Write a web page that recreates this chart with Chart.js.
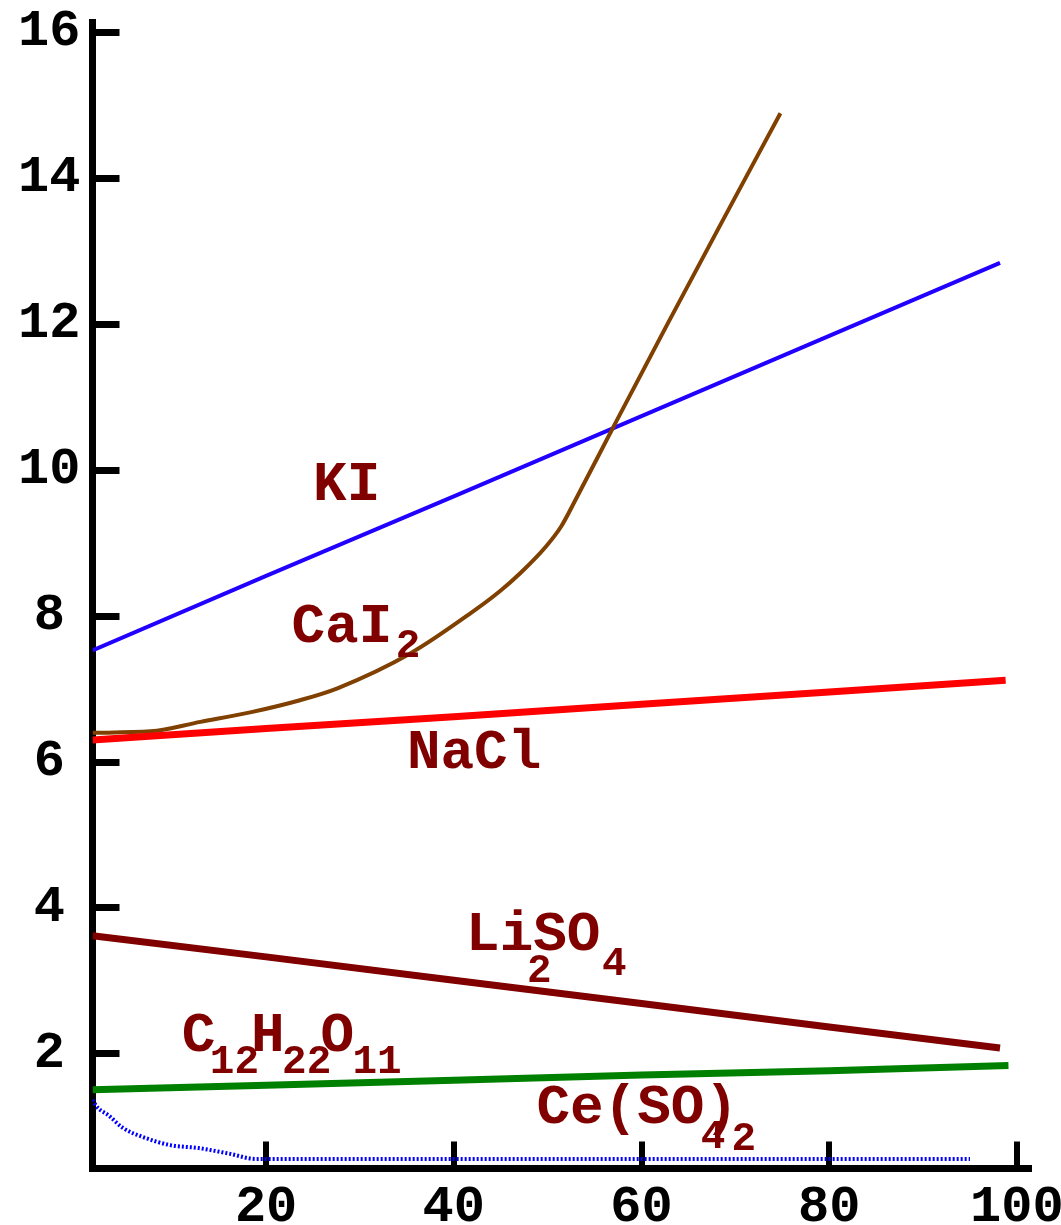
<!DOCTYPE html>
<html>
<head>
<meta charset="utf-8">
<script src="https://cdn.jsdelivr.net/npm/chart.js@4"></script>
<style>
  html, body { margin: 0; padding: 0; background: #fff; }
  canvas { display: block; }
</style>
</head>
<body>
<canvas id="chart" width="1061" height="1225"></canvas>
<script>
const X_TICKS = [20, 40, 60, 80, 100];
const Y_TICKS = [2, 4, 6, 8, 10, 12, 14, 16];

const KI_X = [1.5, 20, 40, 60, 80, 98.2];
const KI_Y = [7.53, 8.55, 9.64, 10.74, 11.84, 12.84];

const CAI2_X = [1.5, 7.7, 13.0, 18.3, 23.7, 27.6, 35.4, 41.8, 44.9, 47.1, 49.8, 51.4, 53.0, 57.2, 62.8, 68.4, 74.8];
const CAI2_Y = [6.40, 6.42, 6.55, 6.68, 6.85, 7.01, 7.49, 8.04, 8.34, 8.59, 8.95, 9.22, 9.60, 10.64, 12.01, 13.36, 14.89];

const NACL_X = [1.5, 20, 40, 60, 80, 98.8];
const NACL_Y = [6.30, 6.46, 6.62, 6.79, 6.96, 7.12];

const LISO4_X = [1.5, 20, 40, 60, 80, 98.2];
const LISO4_Y = [3.62, 3.33, 3.01, 2.69, 2.37, 2.08];

const SUCROSE_X = [1.5, 20, 40, 60, 80, 99.1];
const SUCROSE_Y = [1.51, 1.57, 1.64, 1.71, 1.77, 1.84];

const CESO4_X = [1.5, 2.0, 3.2, 4.7, 6.9, 9.8, 12.8, 16.2, 18.9, 40, 60, 80, 95.0];
const CESO4_Y = [1.37, 1.27, 1.16, 0.99, 0.86, 0.75, 0.71, 0.63, 0.56, 0.56, 0.56, 0.56, 0.56];

// curve labels: text pieces, anchored in data units
const LABEL_PARTS = [
    { text: 'KI', x: 25.0, y: 9.59 },
    { text: 'CaI', x: 22.7, y: 7.64 },
    { text: '2', x: 33.8, y: 7.44, sub: true },
    { text: 'NaCl', x: 35.0, y: 5.92 },
    { text: 'LiSO', x: 41.3, y: 3.42 },
    { text: '2', x: 47.8, y: 2.99, sub: true },
    { text: '4', x: 55.8, y: 3.08, sub: true },
    { text: 'C', x: 11.0, y: 2.04 },
    { text: '12', x: 14.0, y: 1.74, sub: true },
    { text: 'H', x: 18.4, y: 2.04 },
    { text: '22', x: 21.7, y: 1.74, sub: true },
    { text: 'O', x: 25.8, y: 2.04 },
    { text: '11', x: 29.2, y: 1.74, sub: true },
    { text: 'Ce(SO)', x: 48.8, y: 1.05 },
    { text: '4', x: 66.3, y: 0.71, sub: true },
    { text: '2', x: 69.6, y: 0.68, sub: true }
];

const FONT = "'Liberation Mono', 'Courier New', monospace";
const TICK_SIZE = 52;
const LABEL_SIZE = 56;
const SUB_SIZE = 41;
const MAROON = '#800000';

const pts = (xs, ys) => xs.map((x, i) => ({ x: x, y: ys[i] }));

const line = (xs, ys, color, width, extra) => Object.assign({
    data: pts(xs, ys),
    borderColor: color,
    backgroundColor: color,
    borderWidth: width,
    pointRadius: 0,
    tension: 0,
    fill: false,
    borderCapStyle: 'butt'
}, extra || {});

const tickMarks = {
    id: 'tickMarks',
    beforeDatasetsDraw(chart) {
        const { ctx, chartArea, scales: { x, y } } = chart;
        ctx.save();
        ctx.fillStyle = '#000';
        y.ticks.forEach(t => {
            const py = y.getPixelForValue(t.value);
            ctx.fillRect(chartArea.left, Math.round(py - 3.5), 27, 7);
        });
        x.ticks.forEach(t => {
            const px = x.getPixelForValue(t.value);
            ctx.fillRect(Math.round(px - 3), chartArea.bottom - 27, 6, 27);
        });
        ctx.restore();
    }
};

const curveLabels = {
    id: 'curveLabels',
    afterDatasetsDraw(chart) {
        const { ctx, scales: { x, y } } = chart;
        ctx.save();
        ctx.fillStyle = MAROON;
        ctx.textAlign = 'left';
        ctx.textBaseline = 'alphabetic';
        LABEL_PARTS.forEach(p => {
            ctx.font = 'bold ' + (p.sub ? SUB_SIZE : LABEL_SIZE) + 'px ' + FONT;
            ctx.fillText(p.text, x.getPixelForValue(p.x), y.getPixelForValue(p.y));
        });
        ctx.restore();
    }
};

new Chart(document.getElementById('chart'), {
    type: 'line',
    data: {
        datasets: [
            line(NACL_X, NACL_Y, '#ff0000', 7),
            line(LISO4_X, LISO4_Y, MAROON, 7),
            line(SUCROSE_X, SUCROSE_Y, '#008000', 7),
            line(CESO4_X, CESO4_Y, '#0000ff', 4, { borderDash: [2, 2], cubicInterpolationMode: 'monotone' }),
            line(CAI2_X, CAI2_Y, '#804000', 4, { cubicInterpolationMode: 'monotone' }),
            line(KI_X, KI_Y, '#2200ff', 4)
        ]
    },
    options: {
        responsive: false,
        animation: false,
        layout: { padding: { top: 22, right: 30, left: 0, bottom: 0 } },
        plugins: {
            legend: { display: false },
            tooltip: { enabled: false }
        },
        scales: {
            x: {
                type: 'linear',
                min: 1.5,
                max: 101.5,
                afterBuildTicks: s => { s.ticks = X_TICKS.map(v => ({ value: v })); },
                afterFit: s => { s.height = 56.5; s.paddingLeft = 0; s.paddingRight = 0; },
                grid: { drawOnChartArea: false, drawTicks: false },
                border: { display: true, color: '#000', width: 7 },
                ticks: {
                    color: '#000',
                    padding: 21,
                    maxRotation: 0,
                    autoSkip: false,
                    font: { family: FONT, size: TICK_SIZE, weight: 'bold', lineHeight: 0.7 }
                }
            },
            y: {
                type: 'linear',
                min: 0.43,
                max: 16.14,
                afterBuildTicks: s => { s.ticks = Y_TICKS.map(v => ({ value: v })); },
                afterFit: s => { s.width = 92.5; s.paddingTop = 0; s.paddingBottom = 0; },
                grid: { drawOnChartArea: false, drawTicks: false },
                border: { display: true, color: '#000', width: 7 },
                ticks: {
                    color: '#000',
                    padding: 12,
                    crossAlign: 'center',
                    autoSkip: false,
                    font: { family: FONT, size: TICK_SIZE, weight: 'bold', lineHeight: 0.7 }
                }
            }
        }
    },
    plugins: [tickMarks, curveLabels]
});
</script>
</body>
</html>
